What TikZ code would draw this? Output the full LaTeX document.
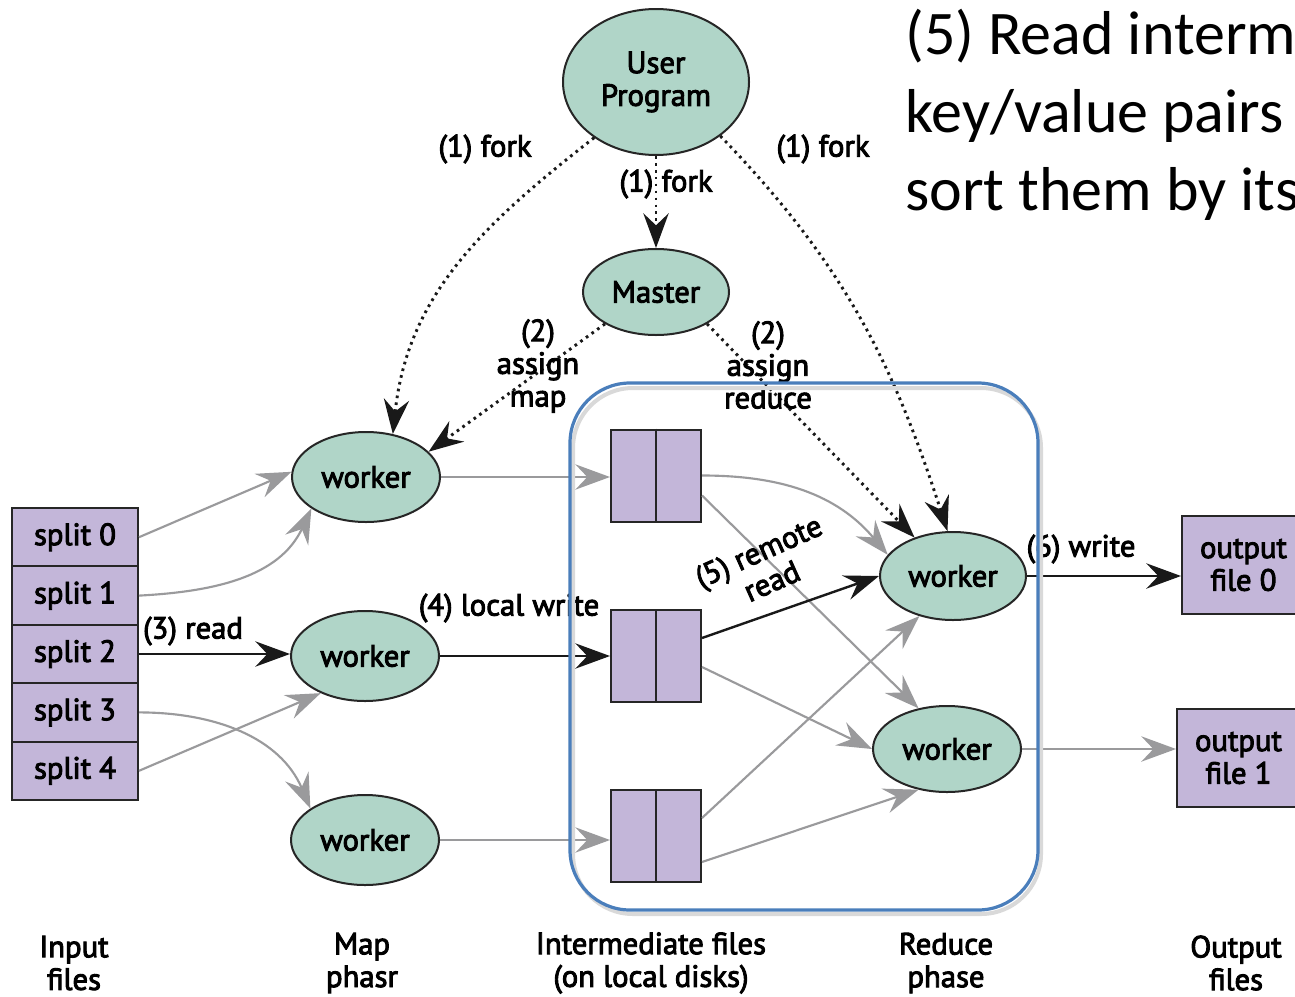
\documentclass[tikz,border=0pt]{standalone}
\usepackage{fontspec}
\usetikzlibrary{arrows.meta,shapes.geometric,calc}
\newfontfamily\df[FakeBold=3]{PT Sans}
\newfontfamily\calfont{Carlito}
\definecolor{mint}{HTML}{B0D5C8}
\definecolor{lav}{HTML}{C3B6D9}
\definecolor{gline}{HTML}{9A9A9C}
\definecolor{boxblue}{HTML}{4A7EBB}
\begin{document}
\begin{tikzpicture}[x=0.75pt,y=0.75pt,
  >={Stealth[length=26pt,width=19pt,inset=9pt]},
  dfont/.style={font=\df\fontsize{23}{24.5}\selectfont},
  ell/.style={ellipse,draw=black!85,line width=1.5pt,fill=mint,inner sep=0pt,dfont,align=center},
  wrk/.style={ell,minimum width=111pt,minimum height=67.5pt},
  box/.style={rectangle,draw=black!85,line width=1.5pt,fill=lav,inner sep=0pt,dfont,align=center},
  splitbox/.style={box,minimum width=94.5pt,minimum height=43.8pt},
  filebox/.style={box,minimum width=67.5pt,minimum height=69pt},
  outbox/.style={box,minimum width=92.25pt,minimum height=74pt},
  lbl/.style={dfont,align=center,inner sep=0pt},
  garr/.style={draw=gline,line width=1.6pt,->},
  karr/.style={draw=black!90,line width=1.8pt,->},
  darr/.style={draw=black!90,line width=2.2pt,dash pattern=on 2pt off 3.2pt,->},
]
\useasboundingbox (0,0) rectangle (1295,-996);
\clip (0,0) rectangle (1295,-996);
\fill[white] (0,0) rectangle (1295,-996);

% nodes
\node[ell,minimum width=139.5pt,minimum height=109.5pt] (up) at (656,-82) {User\\Program};
\node[ell,minimum width=109.5pt,minimum height=64.5pt] (m) at (656,-292) {Master};
\node[wrk] (w1) at (366,-477) {worker};
\node[wrk] (w2) at (365,-656) {worker};
\node[wrk] (w3) at (365,-840) {worker};
\node[ell,minimum width=109.5pt,minimum height=66pt] (rt) at (953,-576) {worker};
\node[ell,minimum width=111pt,minimum height=64.5pt] (rb) at (947,-749) {worker};

\node[splitbox] (s0) at (75,-537.2) {split 0};
\node[splitbox] (s1) at (75,-595.6) {split 1};
\node[splitbox] (s2) at (75,-654) {split 2};
\node[splitbox] (s3) at (75,-712.4) {split 3};
\node[splitbox] (s4) at (75,-770.8) {split 4};

\node[filebox] (f1) at (656,-475.5) {};
\node[filebox] (f2) at (656,-656) {};
\node[filebox] (f3) at (656,-836) {};
\foreach \f in {f1,f2,f3} \draw[line width=1.5pt,black!85] (\f.north) -- (\f.south);

\node[outbox] (o0) at (1243.5,-565) {output\\file 0};
\node[outbox,minimum height=73.5pt] (o1) at (1238.5,-758) {output\\file 1};

% dotted control arrows
\draw[darr] (up.222) to[out=218,in=84] (w1.58);
\draw[darr] (up.-40) to[out=-46,in=108] (rt.97);
\draw[darr] (up.south) -- (m.north);
\draw[darr] (m.212) -- (w1.22);
\draw[darr] (m.-32) -- (rt.135);

% input splits to map workers
\draw[garr] (s0.east) -- (w1.176);
\draw[garr] (s1.east) to[out=3,in=245] (w1.210);
\draw[karr] (s2.east) -- (s2.east -| w2.west);
\draw[garr] (s3.east) to[out=0,in=113] (w3.150);
\draw[garr] (s4.east) -- (w2.220);

% map workers to intermediate files
\draw[garr] (w1.east) -- (w1.east -| f1.west);
\draw[karr] (w2.east) -- (w2.east -| f2.west);
\draw[garr] (w3.east) -- (w3.east -| f3.west);

% intermediate files to reduce workers
\draw[garr] (f1.east) to[out=0,in=130] (rt.162);
\draw[garr] ($(f1.east)+(0,-20)$) -- (rb.125);
\draw[karr] ($(f2.east)+(0,18)$) -- (rt.west);
\draw[garr] ($(f2.east)+(0,-11)$) -- (rb.west);
\draw[garr] ($(f3.east)+(0,18)$) -- (rt.230);
\draw[garr] ($(f3.east)+(0,-26)$) -- (rb.235);

% reduce workers to output
\draw[karr] (rt.east) -- (rt.east -| o0.west);
\draw[garr] (rb.east) -- (rb.east -| o1.west);

% labels
\node[lbl] (l1a) at (485,-149) {(1) fork};
\node[lbl] (l1b) at (666,-184) {(1) fork};
\node[lbl] (l1c) at (823,-149) {(1) fork};
\node[lbl] (l2a) at (538,-366) {(2)\\assign\\map};
\node[lbl] (l2b) at (768,-365) {(2)\\assign\\reduce};
\node[lbl] (l3) at (193,-631) {(3) read};
\node[lbl] (l4) at (509,-608) {(4) local write};
\node[lbl,rotate=24] (l5) at (765,-566) {(5) remote\\read};
\node[lbl] (l6) at (1081,-549) {(6) write};

\node[lbl] (b1) at (74,-963) {Input\\files};
\node[lbl] (b2) at (362,-963) {Map\\phasr};
\node[lbl] (b3) at (651,-963) {Intermediate files\\(on local disks)};
\node[lbl] (b4) at (946,-963) {Reduce\\phase};
\node[lbl] (b5) at (1236,-963) {Output\\files};

% top-right text
\node[anchor=base west,inner sep=0pt,font=\calfont\fontsize{46.5}{58.5}\selectfont] (t1) at (905,-54) {(5) Read interm};
\node[anchor=base west,inner sep=0pt,font=\calfont\fontsize{46.5}{58.5}\selectfont] (t2) at (905,-132) {key/value pairs};
\node[anchor=base west,inner sep=0pt,font=\calfont\fontsize{46.5}{58.5}\selectfont] (t3) at (905,-210) {sort them by its};

% blue grouping box
\draw[black!15,line width=3pt,rounded corners=45pt] (573,-388) rectangle (1041,-914);
\draw[boxblue,line width=2.4pt,rounded corners=45pt] (570,-383) rectangle (1038,-910);
\end{tikzpicture}
\end{document}
